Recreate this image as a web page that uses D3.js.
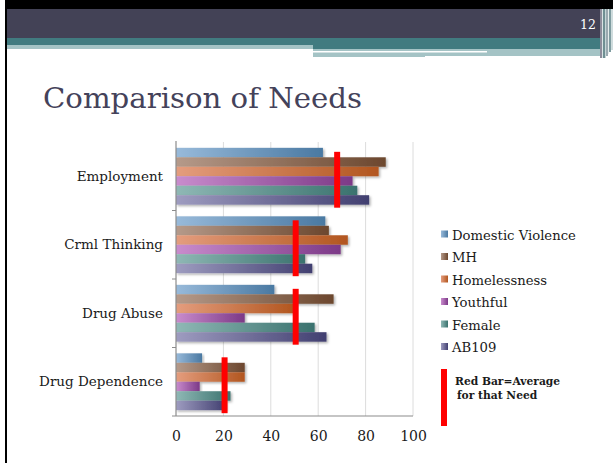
<!DOCTYPE html>
<html>
<head>
<meta charset="utf-8">
<script src="https://cdn.jsdelivr.net/npm/d3@7"></script>
<style>
  html, body { margin: 0; padding: 0; background: #ffffff; }
  svg { display: block; }
</style>
</head>
<body>
<svg id="slide" width="613" height="463"></svg>
<script>
// Need areas (one group of bars per need)
const categories = ["Employment", "Crml Thinking", "Drug Abuse", "Drug Dependence"];
// Populations compared, in the order drawn inside each group
const seriesNames = ["Domestic Violence", "MH", "Homelessness", "Youthful", "Female", "AB109"];
const domesticViolence = [62, 63, 41.5, 11];
const mh = [88.5, 64.5, 66.5, 29];
const homelessness = [85.5, 72.5, 50, 29];
const youthful = [74.5, 69.5, 29, 10];
const female = [76.5, 54.5, 58.5, 23];
const ab109 = [81.5, 57.5, 63.5, 21];
// Average for each need, shown as the red marker
const averages = [68, 50.5, 50.5, 20.5];
const xTicks = [0, 20, 40, 60, 80, 100];

const seriesValues = [domesticViolence, mh, homelessness, youthful, female, ab109];
const seriesColors = [
  ["#98bada", "#4a79a2"],
  ["#b59a8a", "#6c472e"],
  ["#e49d7e", "#b2561f"],
  ["#c98ccd", "#7c3987"],
  ["#8fb8b5", "#3a726e"],
  ["#9e9cc0", "#413f70"]
];

const svg = d3.select("#slide");

// ---------- slide frame and header ----------
const frame = svg.append("g");
frame.append("rect").attr("x", 5).attr("y", 0).attr("width", 608).attr("height", 9).attr("fill", "#000");
frame.append("rect").attr("x", 5).attr("y", 0).attr("width", 2).attr("height", 463).attr("fill", "#000");
frame.append("rect").attr("x", 7).attr("y", 9).attr("width", 593).attr("height", 29).attr("fill", "#434256");
frame.append("rect").attr("x", 7).attr("y", 38).attr("width", 593).attr("height", 7).attr("fill", "#417b80");
frame.append("rect").attr("x", 7).attr("y", 45).attr("width", 306).attr("height", 4).attr("fill", "#a4c3c5");
frame.append("rect").attr("x", 313).attr("y", 45).attr("width", 287).attr("height", 4).attr("fill", "#417b80");
frame.append("rect").attr("x", 313).attr("y", 49).attr("width", 112).attr("height", 8).attr("fill", "#a4c3c5");
frame.append("rect").attr("x", 425).attr("y", 49).attr("width", 175).attr("height", 7).attr("fill", "#a4c3c5");
frame.append("rect").attr("x", 313).attr("y", 51).attr("width", 174).attr("height", 1.5).attr("fill", "#ffffff");
// vertical stripes at the right edge of the header
const stripes = [
  [600, 2, "#8d8c9b", 58], [602, 1, "#d9e3e4", 58], [603, 2, "#6f8f93", 58],
  [605, 1, "#c5d6d7", 58], [606, 2, "#9aa9b0", 56], [608, 1, "#e4ecec", 54],
  [609, 2, "#7f9ca0", 52], [611, 2, "#cfdcdd", 50]
];
frame.selectAll("rect.stripe").data(stripes).join("rect")
  .attr("class", "stripe")
  .attr("x", d => d[0]).attr("y", 9).attr("width", d => d[1]).attr("height", d => d[3] - 9)
  .attr("fill", d => d[2]);

svg.append("text")
  .attr("x", 596).attr("y", 29)
  .attr("text-anchor", "end")
  .attr("font-family", "DejaVu Serif, serif")
  .attr("font-size", 12.5)
  .attr("fill", "#ffffff")
  .text("12");

svg.append("text")
  .attr("x", 43).attr("y", 108)
  .attr("font-family", "DejaVu Serif, serif")
  .attr("font-size", 28.5)
  .attr("fill", "#44425a")
  .attr("textLength", 319)
  .attr("lengthAdjust", "spacingAndGlyphs")
  .text("Comparison of Needs");

// ---------- chart ----------
const x = d3.scaleLinear().domain([0, 100]).range([176, 413]);
const y = d3.scaleBand().domain(categories).range([142, 416]).paddingInner(0.17).paddingOuter(0.085);
const y1 = d3.scaleBand().domain(seriesNames).range([0, y.bandwidth()]);

const defs = svg.append("defs");
seriesColors.forEach((c, i) => {
  const g = defs.append("linearGradient").attr("id", "grad" + i)
    .attr("x1", "0%").attr("x2", "100%").attr("y1", "0%").attr("y2", "0%");
  g.append("stop").attr("offset", "0%").attr("stop-color", c[0]);
  g.append("stop").attr("offset", "100%").attr("stop-color", c[1]);
});
const shadow = defs.append("filter").attr("id", "shadow")
  .attr("x", "-5%").attr("y", "-30%").attr("width", "115%").attr("height", "180%");
shadow.append("feDropShadow").attr("dx", 1.5).attr("dy", 1.5).attr("stdDeviation", 1)
  .attr("flood-color", "#000").attr("flood-opacity", 0.3);

// vertical gridlines
svg.append("g").selectAll("line").data(xTicks.slice(1)).join("line")
  .attr("x1", d => x(d)).attr("x2", d => x(d))
  .attr("y1", 142).attr("y2", 416)
  .attr("stroke", "#dcdcdc").attr("stroke-width", 1);

// bars
const groups = svg.append("g").selectAll("g").data(categories).join("g")
  .attr("transform", d => `translate(0,${y(d)})`);
groups.selectAll("rect").data((c, ci) => seriesNames.map((s, si) => ({ s, si, v: seriesValues[si][ci] })))
  .join("rect")
  .attr("x", x(0))
  .attr("y", d => y1(d.s))
  .attr("width", d => x(d.v) - x(0))
  .attr("height", y1.bandwidth())
  .attr("fill", d => `url(#grad${d.si})`)
  .attr("filter", "url(#shadow)");

// axes lines
svg.append("line").attr("x1", x(0)).attr("x2", x(0)).attr("y1", 141).attr("y2", 416)
  .attr("stroke", "#8c8c8c").attr("stroke-width", 1.2);
svg.append("line").attr("x1", x(0)).attr("x2", x(100)).attr("y1", 416).attr("y2", 416)
  .attr("stroke", "#8c8c8c").attr("stroke-width", 1.2);
// category separators on the vertical axis
const bounds = categories.map(c => y(c) - y.step() * y.paddingInner() / 2).slice(1).concat([416]);
svg.append("g").selectAll("line").data(bounds).join("line")
  .attr("x1", x(0) - 4).attr("x2", x(0)).attr("y1", d => d).attr("y2", d => d)
  .attr("stroke", "#8c8c8c").attr("stroke-width", 1);

// category labels
const yAxis = d3.axisLeft(y).tickSize(0).tickPadding(13);
const gy = svg.append("g").attr("transform", `translate(${x(0)},0)`).call(yAxis);
gy.select(".domain").remove();
gy.selectAll("text")
  .attr("font-family", "DejaVu Serif, serif")
  .attr("font-size", 13.5)
  .attr("fill", "#1a1a1a");

// value axis labels
const xAxis = d3.axisBottom(x).tickValues(xTicks).tickSize(0).tickPadding(15);
const gx = svg.append("g").attr("transform", "translate(0,416)").call(xAxis);
gx.select(".domain").remove();
gx.selectAll("text")
  .attr("font-family", "DejaVu Serif, serif")
  .attr("font-size", 14)
  .attr("fill", "#1a1a1a");

// red average markers
svg.append("g").selectAll("rect").data(categories).join("rect")
  .attr("x", (c, i) => x(averages[i]) - 3)
  .attr("y", c => y(c) + 4)
  .attr("width", 6)
  .attr("height", y.bandwidth() - 1)
  .attr("fill", "#ff0000");

// ---------- legend ----------
const legend = svg.append("g").attr("transform", "translate(441,235)");
const items = legend.selectAll("g").data(seriesNames).join("g")
  .attr("transform", (d, i) => `translate(0,${i * 22.5})`);
items.append("rect")
  .attr("x", 0).attr("y", -4.5).attr("width", 7).attr("height", 7)
  .attr("fill", (d, i) => `url(#grad${i})`);
items.append("text")
  .attr("x", 11).attr("y", 0).attr("dy", "0.35em")
  .attr("font-family", "DejaVu Serif, serif")
  .attr("font-size", 13.2)
  .attr("fill", "#1a1a1a")
  .text(d => d);

legend.append("rect").attr("x", 0).attr("y", 134).attr("width", 6).attr("height", 57).attr("fill", "#ff0000");
legend.append("text")
  .attr("x", 14).attr("y", 150)
  .attr("font-family", "DejaVu Serif, serif")
  .attr("font-weight", "bold")
  .attr("font-size", 10.7)
  .attr("fill", "#1a1a1a")
  .text("Red Bar=Average");
legend.append("text")
  .attr("x", 16).attr("y", 164)
  .attr("font-family", "DejaVu Serif, serif")
  .attr("font-weight", "bold")
  .attr("font-size", 10.7)
  .attr("fill", "#1a1a1a")
  .text("for that Need");
</script>
</body>
</html>
